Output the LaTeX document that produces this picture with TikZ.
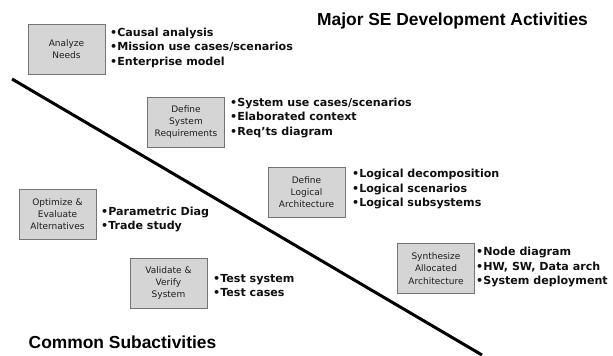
\documentclass[tikz,border=0pt]{standalone}
\usepackage{fontspec}
\setmainfont{DejaVu Sans}
\newfontfamily\titlefont{Liberation Sans}
\definecolor{boxfill}{HTML}{D5D5D5}
\definecolor{boxdraw}{HTML}{747474}
\definecolor{boxtext}{HTML}{1E1E1E}
\definecolor{bultext}{HTML}{101010}
\begin{document}
\begin{tikzpicture}[x=1pt,y=-1pt,
  actbox/.style={draw=boxdraw, line width=1pt, fill=boxfill, minimum width=77pt, minimum height=50pt,
    inner sep=0pt, align=center, text=boxtext, font=\fontsize{9}{12.2}\selectfont},
  bullets/.style={anchor=west, inner sep=0pt, align=left, text=bultext,
    font=\fontsize{11.1}{14.5}\selectfont\bfseries},
  heading/.style={anchor=center, inner sep=0pt, font=\titlefont\fontsize{17.4}{20}\selectfont\bfseries}]
\useasboundingbox (0,0) rectangle (613,356);
\fill[white] (0,0) rectangle (613,356);

\node[heading] (major) at (452.5,21) {Major SE Development Activities};
\node[heading] (common) at (122.5,342) {Common Subactivities};

\coordinate (lineA) at (12,79);
\coordinate (lineB) at (482,355);
\draw[line width=3pt] (lineA) -- (lineB);

\node[actbox] (analyze) at (66.5,49) {Analyze\\Needs};
\node[bullets] (analyzeB) at (110,47.7) {•Causal analysis\\•Mission use cases/scenarios\\•Enterprise model};

\node[actbox] (sysreq) at (186,122) {Define\\System\\Requirements};
\node[bullets] (sysreqB) at (230,117.5) {•System use cases/scenarios\\•Elaborated context\\•Req’ts diagram};

\node[actbox] (logical) at (306.5,192) {Define\\Logical\\Architecture};
\node[bullets] (logicalB) at (352,189) {•Logical decomposition\\•Logical scenarios\\•Logical subsystems};

\node[actbox] (optimize) at (57.5,214) {Optimize \&\\Evaluate\\Alternatives};
\node[bullets] (optimizeB) at (101,219.5) {•Parametric Diag\\•Trade study};

\node[actbox] (validate) at (168.5,283) {Validate \&\\Verify\\System};
\node[bullets] (validateB) at (213,285.5) {•Test system\\•Test cases};

\node[actbox] (synth) at (436,268.5) {Synthesize\\Allocated\\Architecture};
\node[bullets] (synthB) at (476,267) {•Node diagram\\•HW, SW, Data arch\\•System deployment};
\end{tikzpicture}
\end{document}
